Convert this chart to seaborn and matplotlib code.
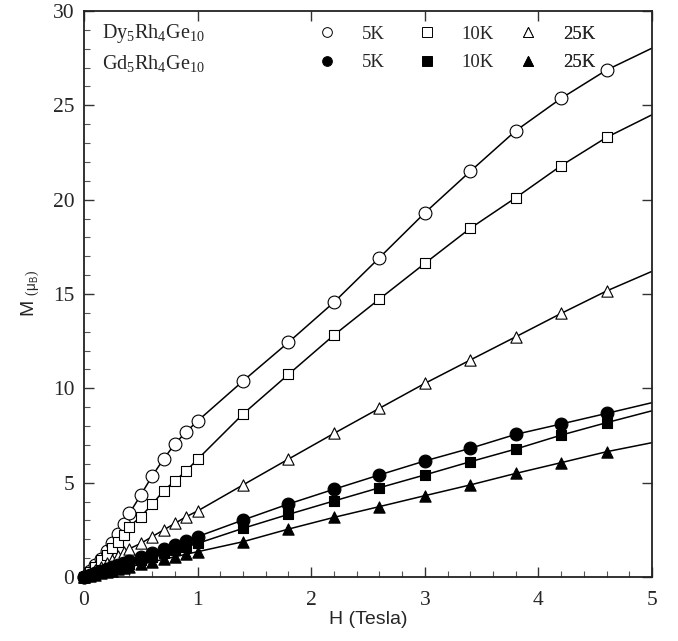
import numpy as np
import pandas as pd
import matplotlib
matplotlib.use("Agg")
import matplotlib.pyplot as plt
import seaborn as sns
from matplotlib.lines import Line2D
from matplotlib.ticker import MultipleLocator

# ---- data ----
H = [0, 0.05, 0.1, 0.15, 0.2, 0.25, 0.3, 0.35, 0.4, 0.5, 0.6, 0.7, 0.8, 0.9, 1.0,
     1.4, 1.8, 2.2, 2.6, 3.0, 3.4, 3.8, 4.2, 4.6]
dy_5K = [0, 0.30, 0.62, 0.97, 1.38, 1.82, 2.28, 2.82, 3.37, 4.35, 5.35, 6.25, 7.05, 7.70, 8.27,
         10.39, 12.44, 14.56, 16.92, 19.30, 21.50, 23.65, 25.37, 26.87]
dy_10K = [0, 0.28, 0.55, 0.88, 1.17, 1.52, 1.87, 2.23, 2.67, 3.20, 3.85, 4.57, 5.09, 5.63, 6.24,
          8.64, 10.74, 12.82, 14.73, 16.62, 18.48, 20.10, 21.80, 23.30]
dy_25K = [0, 0.18, 0.36, 0.55, 0.72, 0.92, 1.10, 1.30, 1.50, 1.78, 2.14, 2.49, 2.84, 3.20, 3.50,
          4.88, 6.25, 7.61, 8.94, 10.26, 11.50, 12.73, 13.97, 15.16]
gd_5K = [0, 0.11, 0.22, 0.32, 0.43, 0.54, 0.65, 0.75, 0.86, 1.07, 1.29, 1.50, 1.71, 1.93, 2.14,
         3.02, 3.87, 4.65, 5.41, 6.15, 6.82, 7.56, 8.11, 8.67]
gd_10K = [0, 0.09, 0.18, 0.27, 0.36, 0.45, 0.54, 0.62, 0.71, 0.89, 1.07, 1.25, 1.43, 1.60, 1.78,
          2.58, 3.32, 4.03, 4.73, 5.41, 6.11, 6.78, 7.52, 8.18]
gd_25K = [0, 0.07, 0.13, 0.20, 0.27, 0.34, 0.40, 0.47, 0.54, 0.67, 0.80, 0.94, 1.07, 1.21, 1.34,
          1.87, 2.54, 3.16, 3.73, 4.31, 4.88, 5.49, 6.06, 6.64]
# value of each fitted line at the right edge (H = 5 T)
H_end = 5.0
line_end = {"dy_5K": 28.03, "dy_10K": 24.50, "dy_25K": 16.20,
            "gd_5K": 9.24, "gd_10K": 8.81, "gd_25K": 7.12}

series = {"dy_5K": dy_5K, "dy_10K": dy_10K, "dy_25K": dy_25K,
          "gd_5K": gd_5K, "gd_10K": gd_10K, "gd_25K": gd_25K}
temps = ["5K", "10K", "25K"]
compounds = ["Dy$_5$Rh$_4$Ge$_{10}$", "Gd$_5$Rh$_4$Ge$_{10}$"]

# ---- styles ----
marker_of = {"5K": "o", "10K": "s", "25K": "^"}
size_of = {"5K": 85, "10K": 60, "25K": 66}
key_x_px = {"5K": 326.7, "10K": 426.7, "25K": 528.0}   # key marker centres (pixels)

sns.set_style("ticks")
plt.rcParams["font.family"] = ["Liberation Serif", "DejaVu Serif"]
plt.rcParams["mathtext.fontset"] = "custom"
plt.rcParams["mathtext.rm"] = "Liberation Serif"
plt.rcParams["mathtext.it"] = "Liberation Serif:italic"
plt.rcParams["mathtext.sf"] = "Liberation Sans"

fig = plt.figure(figsize=(6.78, 6.41), dpi=100)
ax = fig.add_axes([84 / 678, 1 - 577 / 641, 568 / 678, 566 / 641])

for key, vals in series.items():
    comp, t = key.split("_")
    df_line = pd.DataFrame({"H": H + [H_end], "M": vals + [line_end[key]]})
    sns.lineplot(data=df_line, x="H", y="M", ax=ax, color="black", lw=1.1,
                 estimator=None, sort=False, zorder=2)
    df_pts = pd.DataFrame({"H": H, "M": vals})
    fc = "white" if comp == "dy" else "black"
    sns.scatterplot(data=df_pts, x="H", y="M", ax=ax, marker=marker_of[t],
                    s=size_of[t], facecolor=fc, edgecolor="black", linewidth=0.8,
                    zorder=3, clip_on=False)

ax.set_xlim(0, 5)
ax.set_ylim(0, 30)
ax.xaxis.set_major_locator(MultipleLocator(1))
ax.xaxis.set_minor_locator(MultipleLocator(0.2))
ax.yaxis.set_major_locator(MultipleLocator(5))
ax.yaxis.set_minor_locator(MultipleLocator(1))
ax.tick_params(which="major", direction="in", length=7, width=1.0,
               top=True, right=True, labelsize=15.5, color="#333333")
ax.tick_params(which="minor", direction="in", length=4, width=0.8,
               top=False, right=False, bottom=True, left=True, color="#555555")
ax.tick_params(axis="x", which="major", pad=10)
ax.tick_params(axis="y", which="major", pad=7)
for sp in ax.spines.values():
    sp.set_linewidth(1.3)
    sp.set_color("#222222")

ax.set_xlabel("H (Tesla)", family=["Liberation Sans"], fontsize=14, labelpad=1)
ax.set_ylabel(r"M $_{(\mathsf{\mu_B})}$", family=["Liberation Sans"], fontsize=14, labelpad=8)

# compound names
ax.text(0.032, 0.960, compounds[0], transform=ax.transAxes, fontsize=14.5,
        va="center", ha="left")
ax.text(0.032, 0.908, compounds[1], transform=ax.transAxes, fontsize=14.5,
        va="center", ha="left")

# marker key: one small two-row legend per temperature column
fs_key = 13.5
half_handle_px = 0.5 * fs_key * 100 / 72
for t in temps:
    hs = []
    for comp in ["dy", "gd"]:
        fc = "white" if comp == "dy" else "black"
        hs.append(Line2D([], [], ls="none", marker=marker_of[t], markersize=7,
                         markerfacecolor=fc, markeredgecolor="black",
                         markeredgewidth=0.7))
    x_left = (key_x_px[t] - half_handle_px - 84) / 568
    leg = ax.legend(hs, [t, t], loc="upper left", bbox_to_anchor=(x_left, 0.974),
                    frameon=False, fontsize=fs_key, handlelength=1.0,
                    handletextpad=1.35, labelspacing=0.6, borderpad=0,
                    borderaxespad=0)
    ax.add_artist(leg)

fig.savefig("out.png", dpi=100)
